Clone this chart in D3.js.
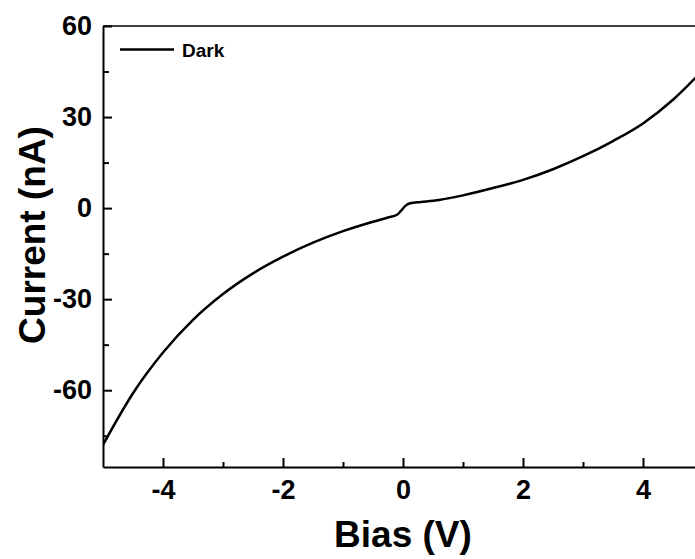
<!DOCTYPE html>
<html>
<head>
<meta charset="utf-8">
<script src="https://cdn.jsdelivr.net/npm/d3@7"></script>
<style>
  body { margin: 0; background: #fff; }
  svg { display: block; }
  text { font-family: "Liberation Sans", Arial, sans-serif; font-weight: bold; fill: #000; }
</style>
</head>
<body>
<script>
// data
const bias = [-5, -4.5, -4, -3.5, -3, -2.5, -2, -1.5, -1, -0.5, -0.25, -0.1, -0.03, 0.05, 0.12, 0.3, 0.6, 1, 1.5, 2, 2.5, 3, 3.5, 4, 4.5, 5];
const current = [-78, -61, -47.6, -36.8, -28.3, -21.5, -16, -11.4, -7.6, -4.5, -3.1, -2.2, -0.8, 0.9, 1.6, 2.0, 2.7, 4.2, 6.6, 9.3, 12.8, 17.1, 22.1, 27.9, 35.7, 45.5];
const xTicks = [-4, -2, 0, 2, 4];
const xMinor = [-3, -1, 1, 3];
const yTicks = [-60, -30, 0, 30, 60];
const yMinor = [-75, -45, -15, 15, 45];
const seriesName = "Dark";

let width = 695, height = 559;
let margin = {left: 103, top: 26, right: 703, bottom: 467};

const svg = d3.select("body").append("svg")
  .attr("width", width)
  .attr("height", height);

const x = d3.scaleLinear().domain([-5, 5]).range([margin.left, margin.right]);
const y = d3.scaleLinear().domain([-85.3, 60]).range([margin.bottom, margin.top]);

svg.append("defs").append("clipPath").attr("id", "plot")
  .append("rect")
  .attr("x", margin.left).attr("y", margin.top)
  .attr("width", margin.right - margin.left)
  .attr("height", margin.bottom - margin.top);

// top / right frame
svg.append("path")
  .attr("d", `M${margin.left},${margin.top}H${margin.right}V${margin.bottom}`)
  .attr("fill", "none").attr("stroke", "#000").attr("stroke-width", 1.5);

// minor ticks
svg.append("g").attr("transform", `translate(0,${margin.bottom})`)
  .call(d3.axisBottom(x).tickValues(xMinor).tickSize(-5).tickFormat(""))
  .call(g => g.select(".domain").remove())
  .selectAll("line").attr("stroke-width", 2);
svg.append("g").attr("transform", `translate(${margin.left},0)`)
  .call(d3.axisLeft(y).tickValues(yMinor).tickSize(-6).tickFormat(""))
  .call(g => g.select(".domain").remove())
  .selectAll("line").attr("stroke-width", 2);

// major axes (plain hyphen for negatives)
const fmt = d => String(d);
const xAxis = svg.append("g").attr("transform", `translate(0,${margin.bottom})`)
  .call(d3.axisBottom(x).tickValues(xTicks).tickFormat(fmt).tickSize(-9).tickSizeOuter(0).tickPadding(13));
const yAxis = svg.append("g").attr("transform", `translate(${margin.left},0)`)
  .call(d3.axisLeft(y).tickValues(yTicks).tickFormat(fmt).tickSize(-9).tickSizeOuter(0).tickPadding(11));

[xAxis, yAxis].forEach(a => {
  a.select(".domain").attr("stroke-width", 2);
  a.selectAll(".tick line").attr("stroke-width", 2);
  a.selectAll("text").attr("font-size", 27)
    .style("font-family", '"Liberation Sans", Arial, sans-serif').style("font-weight", "bold");
});

// the curve
const line = d3.line()
  .x((d, i) => x(bias[i]))
  .y(d => y(d))
  .curve(d3.curveMonotoneX);

svg.append("path")
  .datum(current)
  .attr("clip-path", "url(#plot)")
  .attr("d", line)
  .attr("fill", "none")
  .attr("stroke", "#000")
  .attr("stroke-width", 2.5);

// axis titles
svg.append("text")
  .attr("x", x(0)).attr("y", 547)
  .attr("text-anchor", "middle")
  .attr("font-size", 37)
  .text("Bias (V)");

svg.append("text")
  .attr("transform", "translate(45,235) rotate(-90)")
  .attr("text-anchor", "middle")
  .attr("font-size", 37)
  .text("Current (nA)");

// legend
svg.append("line")
  .attr("x1", 120).attr("x2", 174)
  .attr("y1", 49.5).attr("y2", 49.5)
  .attr("stroke", "#000").attr("stroke-width", 2.5);
svg.append("text")
  .attr("x", 182).attr("y", 57)
  .attr("font-size", 19)
  .text(seriesName);
</script>
</body>
</html>
